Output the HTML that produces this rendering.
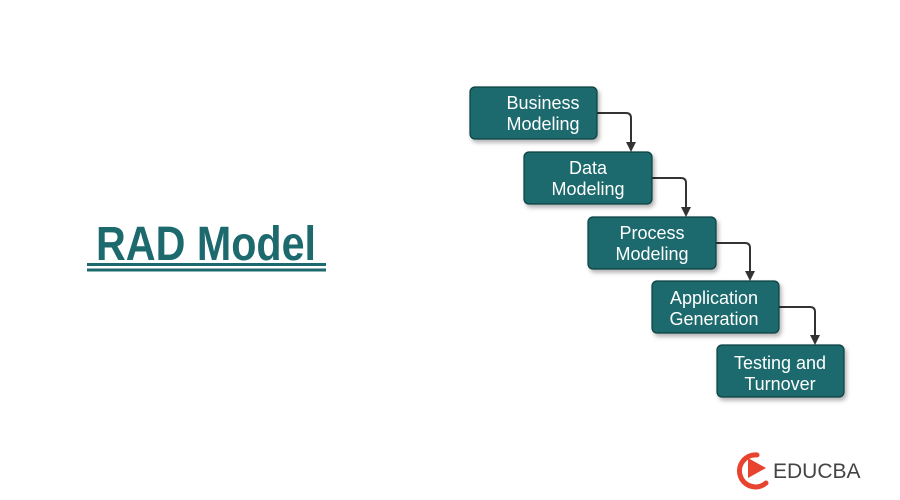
<!DOCTYPE html>
<html><head><meta charset="utf-8"><style>
html,body{margin:0;padding:0;background:#fff;}
svg{display:block}
</style></head><body>
<svg width="900" height="500" viewBox="0 0 900 500" xmlns="http://www.w3.org/2000/svg">
<defs>
<filter id="sh" x="-10%" y="-10%" width="130%" height="140%"><feDropShadow dx="2" dy="3" stdDeviation="2" flood-color="#000" flood-opacity="0.3"/></filter>
</defs>
<text x="96" y="260" font-family="'Liberation Sans Narrow','Liberation Sans',sans-serif" font-weight="bold" font-size="48" fill="#1d6a6e" textLength="220" lengthAdjust="spacingAndGlyphs">RAD Model</text>
<rect x="87" y="263" width="239" height="3" fill="#1d6a6e"/>
<rect x="87" y="268.5" width="239" height="3" fill="#1d6a6e"/>
<g stroke="#333" stroke-width="2" fill="none">
<path d="M597,113 H626 Q631,113 631,118 V143"/>
<path d="M652,178 H681 Q686,178 686,183 V208"/>
<path d="M716,243 H745 Q750,243 750,248 V272"/>
<path d="M779,307 H810 Q815,307 815,312 V336"/>
</g>
<g fill="#333">
<path d="M626,142 L636,142 L631,152 Z"/>
<path d="M681,207 L691,207 L686,217 Z"/>
<path d="M745,271 L755,271 L750,281 Z"/>
<path d="M810,335 L820,335 L815,345 Z"/>
</g>
<g fill="#1a6b6d" stroke="#0f3f40" stroke-width="1.2" filter="url(#sh)">
<rect x="470" y="87" width="127" height="52" rx="5"/>
<rect x="524" y="152" width="128" height="52" rx="5"/>
<rect x="588" y="217" width="128" height="52" rx="5"/>
<rect x="652" y="281" width="127" height="52" rx="5"/>
<rect x="717" y="345" width="127" height="52" rx="5"/>
</g>
<g font-family="'Liberation Sans',sans-serif" font-size="18" fill="#fff" text-anchor="middle">
<text x="543" y="109">Business</text><text x="543" y="130">Modeling</text>
<text x="588" y="174">Data</text><text x="588" y="195">Modeling</text>
<text x="652" y="239">Process</text><text x="652" y="260">Modeling</text>
<text x="714" y="304">Application</text><text x="714" y="325">Generation</text>
<text x="780" y="369">Testing and</text><text x="780" y="390">Turnover</text>
</g>
<g>
<path d="M757,455 A16,16 0 1 0 766,483" fill="none" stroke="#e8432e" stroke-width="5" stroke-linecap="round"/>
<path d="M748,458 L766,468 L748,478 Z" fill="#e8432e"/>
<text x="773" y="478" font-family="'Liberation Sans',sans-serif" font-size="21" fill="#444">EDUCBA</text>
</g>
</svg>
</body></html>
